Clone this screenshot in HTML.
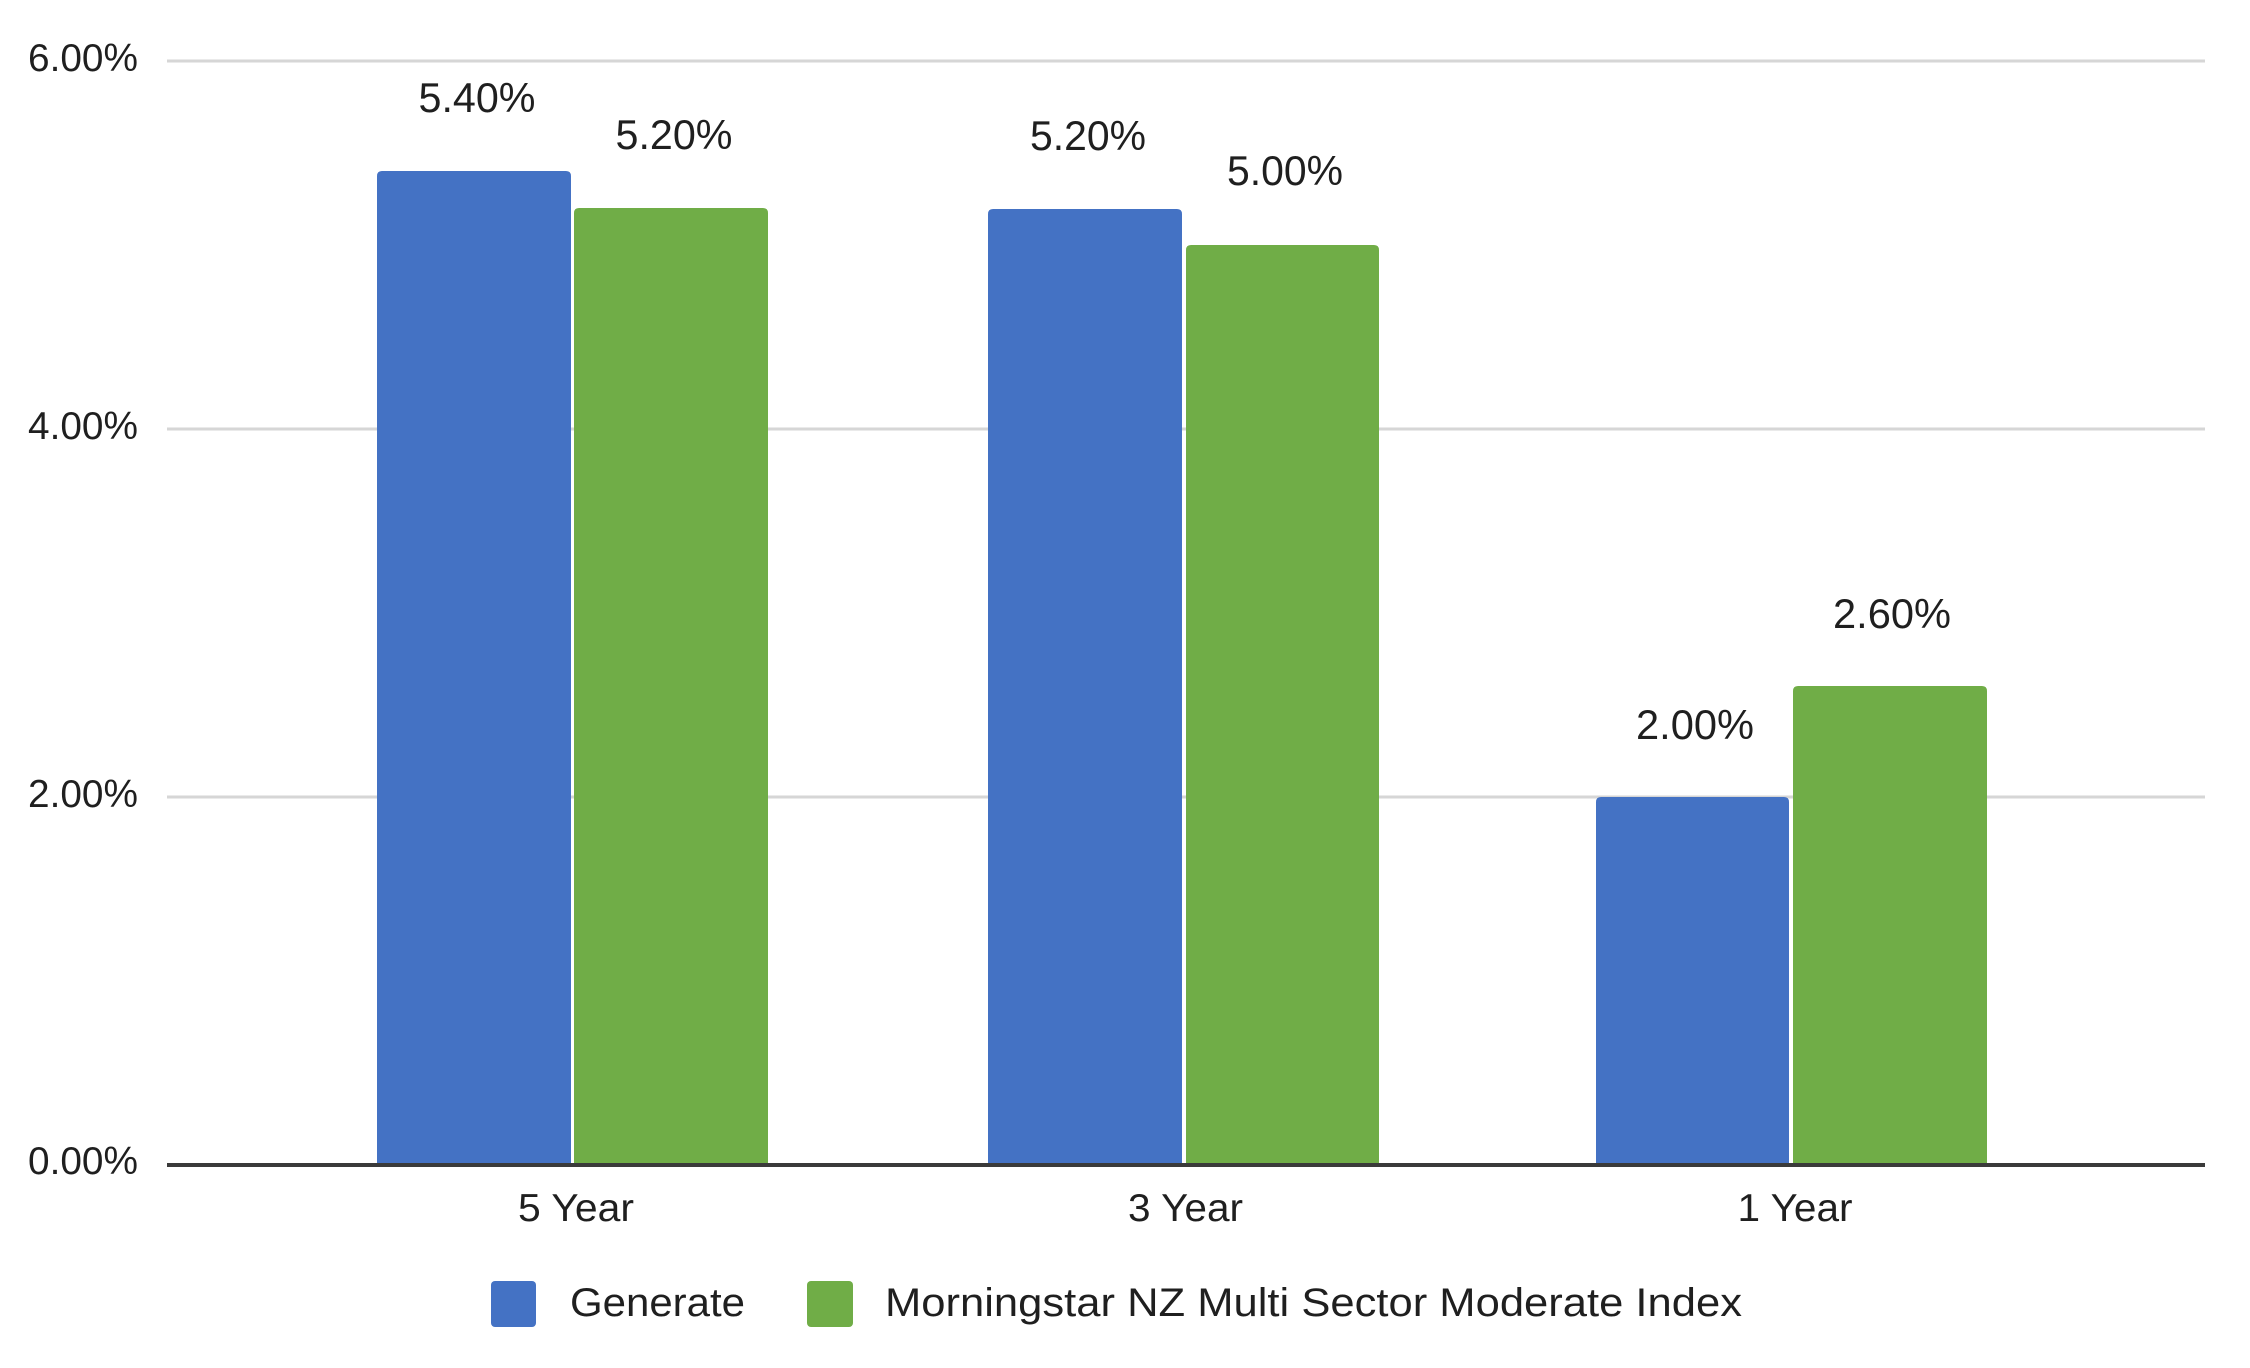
<!DOCTYPE html>
<html>
<head>
<meta charset="utf-8">
<style>
  html, body { margin: 0; padding: 0; background: #ffffff; }
  svg { display: block; }
  text { font-family: "Liberation Sans", "DejaVu Sans", sans-serif; fill: #1f1f1f; }
</style>
</head>
<body>
<svg width="2250" height="1368" viewBox="0 0 2250 1368" xmlns="http://www.w3.org/2000/svg">
  <rect x="0" y="0" width="2250" height="1368" fill="#ffffff"/>

  <!-- gridlines -->
  <rect x="167" y="59.5" width="2038" height="3" fill="#d6d6d6"/>
  <rect x="167" y="427.5" width="2038" height="3" fill="#d6d6d6"/>
  <rect x="167" y="795.5" width="2038" height="3" fill="#d6d6d6"/>

  <!-- y labels -->
  <text x="138" y="71" font-size="39" text-anchor="end" textLength="110" lengthAdjust="spacingAndGlyphs">6.00%</text>
  <text x="138" y="439" font-size="39" text-anchor="end" textLength="110" lengthAdjust="spacingAndGlyphs">4.00%</text>
  <text x="138" y="807" font-size="39" text-anchor="end" textLength="110" lengthAdjust="spacingAndGlyphs">2.00%</text>
  <text x="138" y="1174" font-size="39" text-anchor="end" textLength="110" lengthAdjust="spacingAndGlyphs">0.00%</text>

  <!-- bars: 5 Year -->
  <path d="M377,1165 V176 Q377,171 382,171 H566 Q571,171 571,176 V1165 Z" fill="#4472C4"/>
  <path d="M574,1165 V213 Q574,208 579,208 H763 Q768,208 768,213 V1165 Z" fill="#70AD47"/>
  <!-- bars: 3 Year -->
  <path d="M988,1165 V214 Q988,209 993,209 H1177 Q1182,209 1182,214 V1165 Z" fill="#4472C4"/>
  <path d="M1186,1165 V250 Q1186,245 1191,245 H1374 Q1379,245 1379,250 V1165 Z" fill="#70AD47"/>
  <!-- bars: 1 Year -->
  <path d="M1596,1165 V802 Q1596,797 1601,797 H1784 Q1789,797 1789,802 V1165 Z" fill="#4472C4"/>
  <path d="M1793,1165 V691 Q1793,686 1798,686 H1982 Q1987,686 1987,691 V1165 Z" fill="#70AD47"/>

  <!-- axis line -->
  <rect x="167" y="1163" width="2038" height="4" fill="#3a3a3a"/>

  <!-- value labels -->
  <text x="477" y="112" font-size="42" text-anchor="middle" textLength="117" lengthAdjust="spacingAndGlyphs">5.40%</text>
  <text x="674" y="149" font-size="42" text-anchor="middle" textLength="117" lengthAdjust="spacingAndGlyphs">5.20%</text>
  <text x="1088" y="150" font-size="42" text-anchor="middle" textLength="116" lengthAdjust="spacingAndGlyphs">5.20%</text>
  <text x="1285" y="185" font-size="42" text-anchor="middle" textLength="116" lengthAdjust="spacingAndGlyphs">5.00%</text>
  <text x="1695" y="739" font-size="42" text-anchor="middle" textLength="118" lengthAdjust="spacingAndGlyphs">2.00%</text>
  <text x="1892" y="628" font-size="42" text-anchor="middle" textLength="118" lengthAdjust="spacingAndGlyphs">2.60%</text>

  <!-- x labels -->
  <text x="576" y="1221" font-size="39" text-anchor="middle" textLength="116" lengthAdjust="spacingAndGlyphs">5 Year</text>
  <text x="1185.5" y="1221" font-size="39" text-anchor="middle" textLength="115" lengthAdjust="spacingAndGlyphs">3 Year</text>
  <text x="1795" y="1221" font-size="39" text-anchor="middle" textLength="115" lengthAdjust="spacingAndGlyphs">1 Year</text>

  <!-- legend -->
  <rect x="491" y="1281" width="45" height="46" rx="4" ry="4" fill="#4472C4"/>
  <text x="570" y="1316" font-size="40" textLength="175" lengthAdjust="spacingAndGlyphs">Generate</text>
  <rect x="807" y="1281" width="46" height="46" rx="4" ry="4" fill="#70AD47"/>
  <text x="885" y="1316" font-size="40" textLength="857" lengthAdjust="spacingAndGlyphs">Morningstar NZ Multi Sector Moderate Index</text>
</svg>
</body>
</html>
